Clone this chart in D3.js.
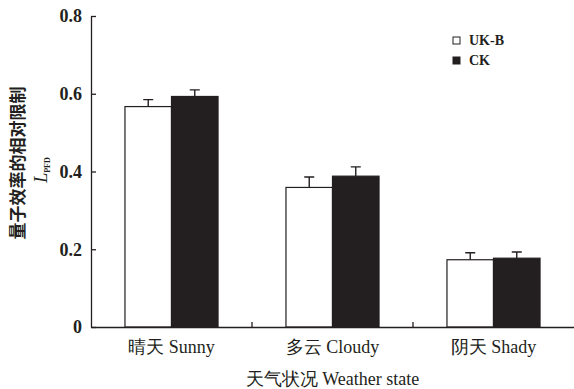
<!DOCTYPE html>
<html>
<head>
<meta charset="utf-8">
<script src="https://cdn.jsdelivr.net/npm/d3@7"></script>
<style>
  html, body { margin: 0; padding: 0; background: #fff; }
  svg { display: block; }
</style>
</head>
<body>
<svg id="chart" width="574" height="389"></svg>
<script>
// Weather categories and the two treatments
const categories = ["晴天 Sunny", "多云 Cloudy", "阴天 Shady"];
const seriesNames = ["UK-B", "CK"];
// Mean relative limitation of quantum efficiency (L_PFD) per category
const ukbValues = [0.567, 0.359, 0.173];
const ckValues  = [0.593, 0.388, 0.177];
// Standard errors
const ukbErrors = [0.018, 0.027, 0.018];
const ckErrors  = [0.017, 0.024, 0.016];
const yTicks = [0, 0.2, 0.4, 0.6, 0.8];

const ink = "#231f20";
const serif = "'Liberation Serif', Tinos, 'Times New Roman', 'DejaVu Serif', serif";
const svg = d3.select("#chart");

const plotLeft = 91, plotRight = 574, plotTop = 16, plotBottom = 327;

const y = d3.scaleLinear().domain([0, 0.8]).range([plotBottom, plotTop]);
const x0 = d3.scaleBand().domain(categories).range([plotLeft, plotRight]).padding(0);
const x1 = d3.scaleBand().domain(seriesNames).range([0, x0.bandwidth()])
  .paddingInner(0).paddingOuter(0.73);

const rows = categories.map((c, i) => ({
  cat: c,
  items: [
    { s: "UK-B", v: ukbValues[i], e: ukbErrors[i] },
    { s: "CK",   v: ckValues[i],  e: ckErrors[i] }
  ]
}));

const fills = { "UK-B": "#ffffff", "CK": ink };

// Bars
const groups = svg.append("g").selectAll("g").data(rows).join("g")
  .attr("transform", d => `translate(${x0(d.cat)},0)`);

groups.selectAll("rect").data(d => d.items).join("rect")
  .attr("x", d => x1(d.s))
  .attr("y", d => y(d.v))
  .attr("width", x1.bandwidth())
  .attr("height", d => y(0) - y(d.v))
  .attr("fill", d => fills[d.s])
  .attr("stroke", ink)
  .attr("stroke-width", 1.2);

// Error bars (upper whisker only)
const capHalf = 5;
groups.selectAll("path.err").data(d => d.items).join("path")
  .attr("class", "err")
  .attr("fill", "none")
  .attr("stroke", ink)
  .attr("stroke-width", 1.4)
  .attr("d", d => {
    const cx = x1(d.s) + x1.bandwidth() / 2;
    const y1 = y(d.v), y2 = y(d.v + d.e);
    return `M${cx},${y1}V${y2}M${cx - capHalf},${y2}H${cx + capHalf}`;
  });

// Y axis with inward ticks
const yAxis = svg.append("g")
  .attr("transform", `translate(${plotLeft},0)`)
  .call(d3.axisLeft(y).tickValues(yTicks).tickSize(-5).tickSizeOuter(0)
    .tickPadding(9)
    .tickFormat(d => d === 0 ? "0" : d.toFixed(1)));
yAxis.attr("font-family", serif);
yAxis.select(".domain").attr("stroke", ink).attr("stroke-width", 1.3);
yAxis.selectAll(".tick line").attr("stroke", ink).attr("stroke-width", 1.3);
yAxis.selectAll(".tick text")
  .attr("font-size", 18)
  .attr("font-weight", "bold")
  .attr("fill", ink);

// X axis: baseline, labels centred in each band, ticks at band boundaries
const xAxis = svg.append("g")
  .attr("transform", `translate(0,${plotBottom})`)
  .call(d3.axisBottom(x0).tickSize(0).tickSizeOuter(0).tickPadding(13));
xAxis.attr("font-family", serif);
xAxis.select(".domain").attr("stroke", ink).attr("stroke-width", 1.3);
xAxis.selectAll(".tick text")
  .attr("font-size", 18)
  .attr("fill", ink);

svg.append("g").selectAll("line").data(categories.slice(1)).join("line")
  .attr("x1", d => x0(d)).attr("x2", d => x0(d))
  .attr("y1", plotBottom).attr("y2", plotBottom - 5)
  .attr("stroke", ink).attr("stroke-width", 1.3);

// X axis title
svg.append("text")
  .attr("font-family", serif)
  .attr("x", (plotLeft + plotRight) / 2)
  .attr("y", 385)
  .attr("text-anchor", "middle")
  .attr("font-size", 18)
  .attr("fill", ink)
  .text("天气状况 Weather state");

// Y axis title: Chinese line plus L_PFD
svg.append("text")
  .attr("transform", "translate(24,163) rotate(-90)")
  .attr("text-anchor", "middle")
  .attr("font-family", "'Noto Sans CJK SC', sans-serif")
  .attr("font-weight", "bold")
  .attr("font-size", 17)
  .attr("fill", ink)
  .text("量子效率的相对限制");

const lt = svg.append("text")
  .attr("font-family", serif)
  .attr("transform", "translate(47,170) rotate(-90)")
  .attr("text-anchor", "middle")
  .attr("fill", ink);
lt.append("tspan").attr("font-style", "italic").attr("font-size", 18).text("L");
lt.append("tspan").attr("font-size", 8).attr("font-weight", "bold").attr("dy", 3).text("PFD");

// Legend
const legend = svg.append("g").attr("transform", "translate(453,37)");
const li = legend.selectAll("g").data(seriesNames).join("g")
  .attr("transform", (d, i) => `translate(0,${i * 20})`);
li.append("rect")
  .attr("width", 7).attr("height", 7)
  .attr("fill", d => fills[d])
  .attr("stroke", ink).attr("stroke-width", 1);
li.append("text")
  .attr("font-family", serif)
  .attr("x", 16).attr("y", 7.5)
  .attr("font-size", 14)
  .attr("font-weight", "bold")
  .attr("fill", ink)
  .text(d => d);
</script>
</body>
</html>
